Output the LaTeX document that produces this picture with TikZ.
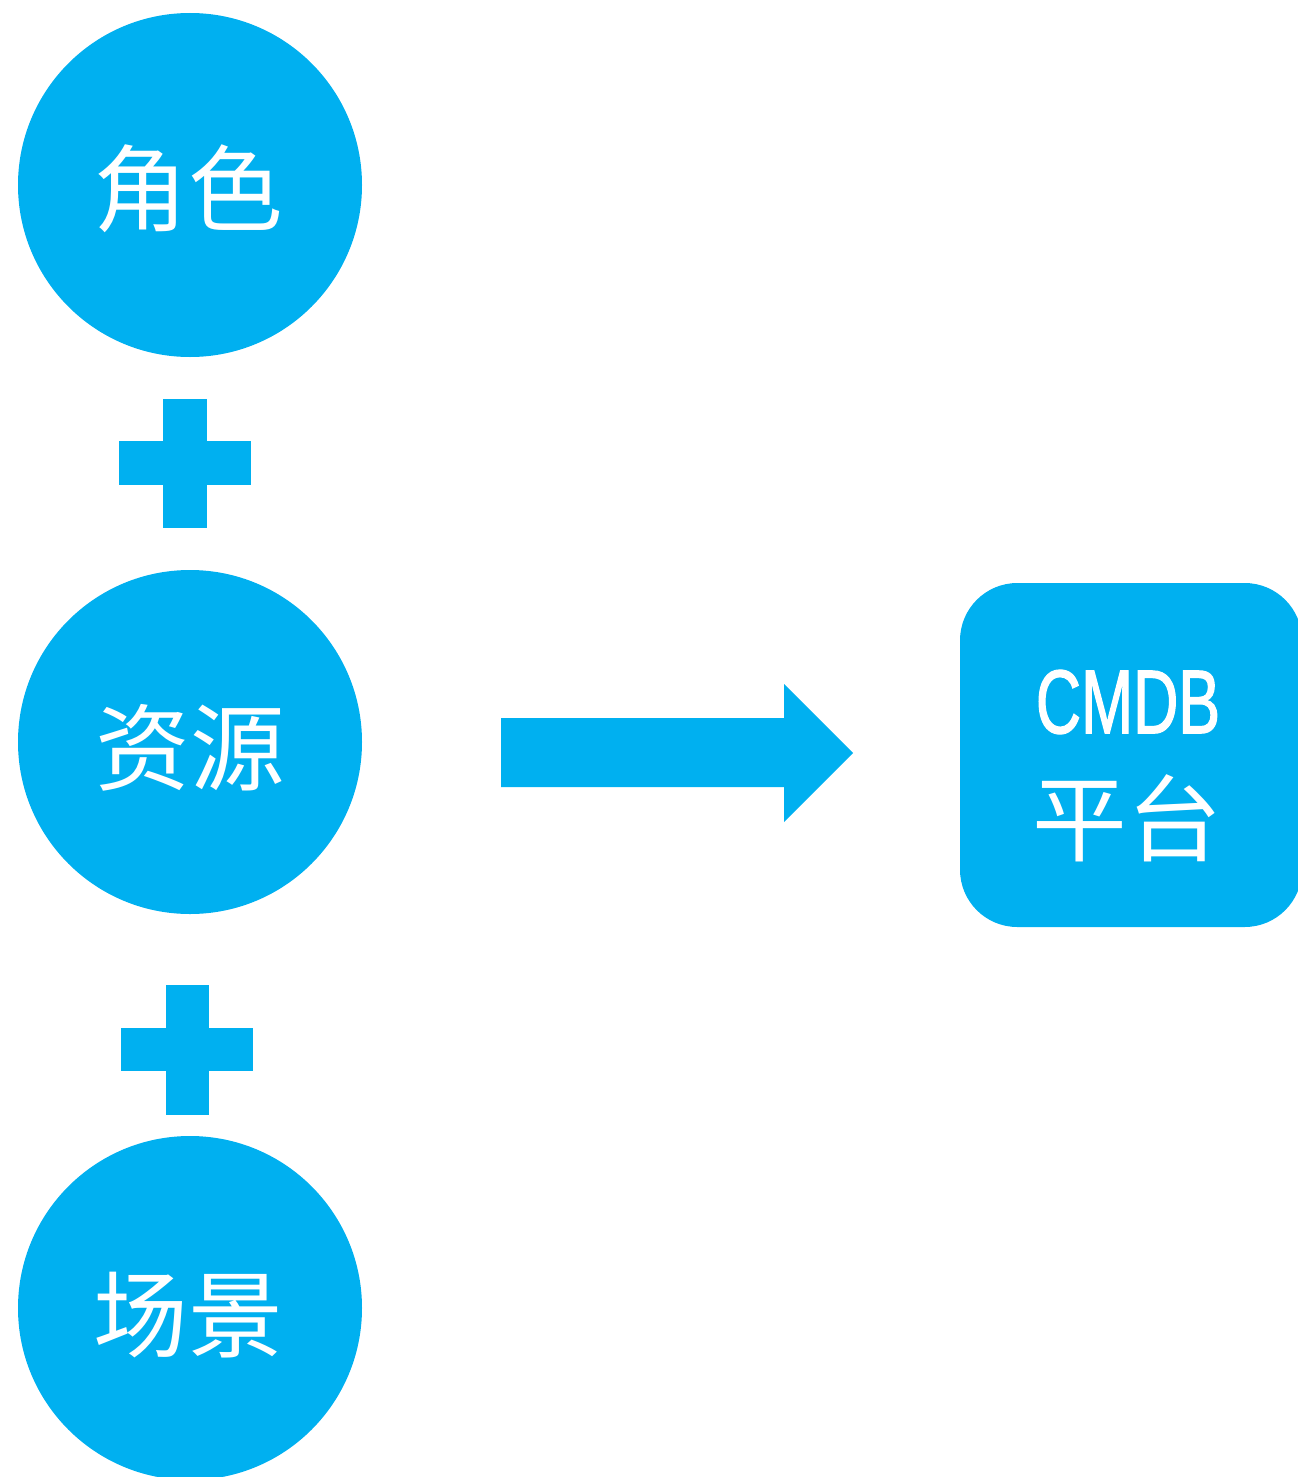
\documentclass[tikz,border=0pt]{standalone}
\usepackage{fontspec}
\newfontfamily\cjk{Noto Sans CJK SC}
\newfontfamily\cmdbfont[FakeStretch=0.69,FakeBold=1.3]{Liberation Sans}
\definecolor{cblue}{HTML}{00B0F0}
\begin{document}
\begin{tikzpicture}[x=0.75pt,y=-0.75pt,
  circ/.style={circle,fill=cblue,minimum size=258pt,inner sep=0pt},
  lbl/.style={text=white,inner sep=0pt,font=\cjk\fontsize{71pt}{71pt}\selectfont},
  cmdbl/.style={text=white,inner sep=0pt,font=\cmdbfont\fontsize{68pt}{68pt}\selectfont}]
\useasboundingbox (0,0) rectangle (1298,1477);
\clip (0,0) rectangle (1298,1477);
% circles
\node[circ] (c1) at (190,185) {};
\node[circ] (c2) at (190,742) {};
\node[circ] (c3) at (190,1308) {};
\node[lbl] (t1) at (188,189) {角色};
\node[lbl] (t2) at (190,748) {资源};
\node[lbl] (t3) at (188,1315) {场景};
% plus signs
\fill[cblue] (163,399) rectangle (207,528);
\fill[cblue] (119,441) rectangle (251,485);
\fill[cblue] (166,985) rectangle (209,1115);
\fill[cblue] (121,1028) rectangle (253,1071);
% arrow
\fill[cblue] (501,718) -- (784,718) -- (784,684) -- (853,753) -- (784,822) -- (784,787) -- (501,787) -- cycle;
% platform box
\fill[cblue,rounded corners=43pt] (960,583) rectangle (1302,927);
\node[cmdbl] (cm) at (1128,702) {CMDB};
\node[lbl] (pt) at (1127,818) {平台};
\end{tikzpicture}
\end{document}
